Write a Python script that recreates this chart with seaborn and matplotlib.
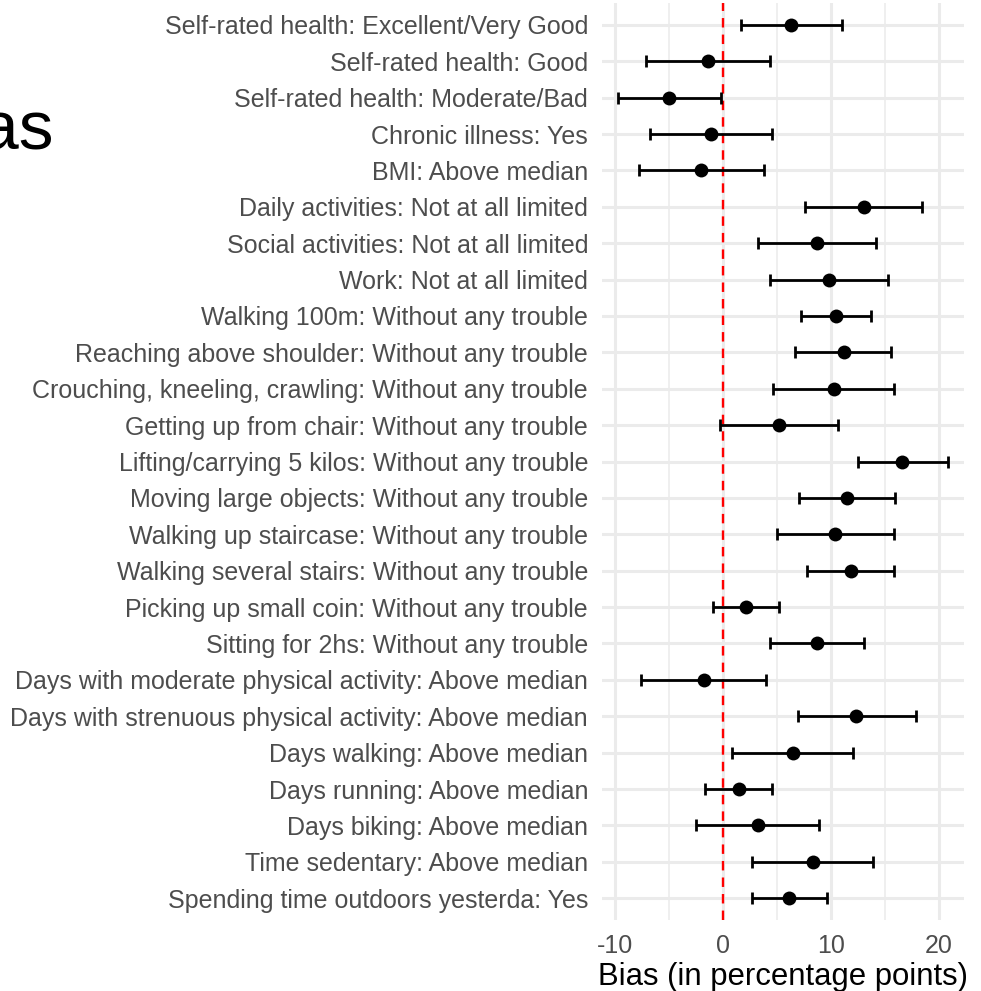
import numpy as np
import pandas as pd
import seaborn as sns
import matplotlib.pyplot as plt

# Outcome labels, top to bottom
labels = [
    "Self-rated health: Excellent/Very Good",
    "Self-rated health: Good",
    "Self-rated health: Moderate/Bad",
    "Chronic illness: Yes",
    "BMI: Above median",
    "Daily activities: Not at all limited",
    "Social activities: Not at all limited",
    "Work: Not at all limited",
    "Walking 100m: Without any trouble",
    "Reaching above shoulder: Without any trouble",
    "Crouching, kneeling, crawling: Without any trouble",
    "Getting up from chair: Without any trouble",
    "Lifting/carrying 5 kilos: Without any trouble",
    "Moving large objects: Without any trouble",
    "Walking up staircase: Without any trouble",
    "Walking several stairs: Without any trouble",
    "Picking up small coin: Without any trouble",
    "Sitting for 2hs: Without any trouble",
    "Days with moderate physical activity: Above median",
    "Days with strenuous physical activity: Above median",
    "Days walking: Above median",
    "Days running: Above median",
    "Days biking: Above median",
    "Time sedentary: Above median",
    "Spending time outdoors yesterda: Yes",
]

# Bias estimate and confidence bounds (percentage points)
bias = [6.3, -1.35, -5.0, -1.15, -2.0, 13.0, 8.7, 9.8, 10.5, 11.15,
        10.25, 5.2, 16.6, 11.45, 10.35, 11.8, 2.15, 8.7, -1.75, 12.35,
        6.45, 1.45, 3.2, 8.35, 6.15]
lower = [1.7, -7.1, -9.7, -6.8, -7.8, 7.55, 3.2, 4.35, 7.25, 6.7,
         4.6, -0.25, 12.45, 7.0, 4.95, 7.8, -0.9, 4.35, -7.55, 6.9,
         0.8, -1.65, -2.5, 2.7, 2.7]
upper = [11.0, 4.35, -0.2, 4.55, 3.75, 18.4, 14.2, 15.25, 13.7, 15.5,
         15.8, 10.6, 20.8, 15.9, 15.85, 15.8, 5.2, 13.0, 4.0, 17.85,
         12.05, 4.55, 8.9, 13.9, 9.65]

df = pd.DataFrame({"label": labels, "bias": bias, "lower": lower, "upper": upper})
df["pos"] = np.arange(len(df))

sns.set_theme(style="whitegrid")
plt.rcParams['font.family'] = ['Liberation Sans', 'DejaVu Sans']
plt.rcParams['axes.unicode_minus'] = False

fig = plt.figure(figsize=(9.81, 9.91), dpi=100)
ax = fig.add_axes([602 / 981, 71 / 991, 362 / 981, 917 / 991])

# red reference line at zero
ax.axvline(0, color="red", lw=1.7, ls=(0, (4, 3)), zorder=1)

ax.errorbar(df["bias"], df["pos"],
            xerr=[df["bias"] - df["lower"], df["upper"] - df["bias"]],
            fmt="none", ecolor="black", elinewidth=2.0, capsize=4.0,
            capthick=2.0, zorder=2)
sns.scatterplot(data=df, x="bias", y="pos", color="black", s=100,
                edgecolor="black", linewidth=0, zorder=3, ax=ax)

ax.set_xlim(-11.2, 22.3)
ax.set_ylim(len(df) - 0.4, -0.6)
ax.set_yticks(df["pos"])
ax.set_yticklabels(df["label"])
ax.set_xticks([-10, 0, 10, 20])
ax.set_xticks([-5, 5, 15], minor=True)

ax.grid(True, which="major", color="#ebebeb", lw=2.2)
ax.grid(True, which="minor", axis="x", color="#ebebeb", lw=1.1)
ax.set_axisbelow(True)
for s in ax.spines.values():
    s.set_visible(False)
ax.tick_params(axis="both", which="both", length=0, labelsize=18,
               labelcolor="#4d4d4d")
ax.tick_params(axis="y", pad=10)
ax.tick_params(axis="x", pad=10)

ax.set_ylabel("")
ax.set_xlabel("Bias (in percentage points)", fontsize=22.4, color="black", labelpad=3)

# cropped title fragment at the left edge
fig.text(-20 / 981, 1 - 150 / 991, "as", fontsize=50, color="black",
         ha="left", va="baseline")

fig.savefig("out.png", dpi=100)
